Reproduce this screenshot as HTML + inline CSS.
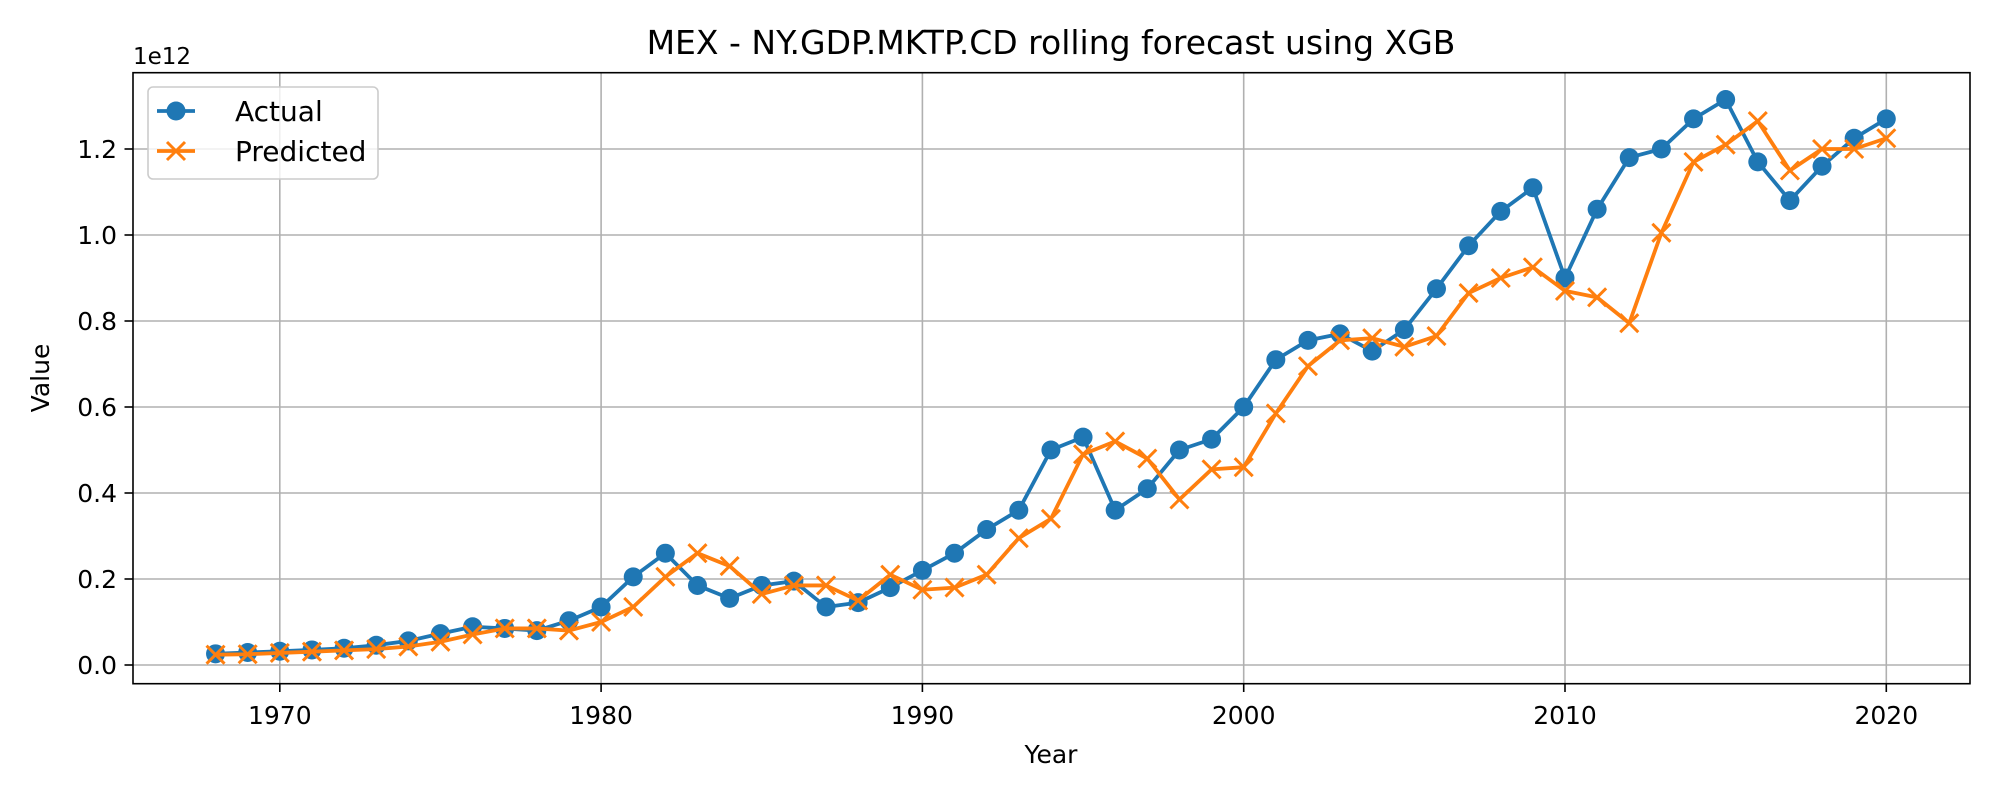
<!DOCTYPE html>
<html><head><meta charset="utf-8"><style>
body{margin:0;background:#fff}
svg{display:block;font-family:"DejaVu Sans","Liberation Sans",sans-serif}
</style></head><body>
<svg id="chart" width="2000" height="800" viewBox="0 0 2000 800">
<rect x="0" y="0" width="2000" height="800" fill="#fff"/>
<text x="1051" y="54" text-anchor="middle" font-size="33">MEX - NY.GDP.MKTP.CD rolling forecast using XGB</text>
<text x="133" y="64" font-size="23">1e12</text>
<g id="grid"></g>
<g id="ticks"></g>
<g id="series"></g>
<rect x="133" y="72.7" width="1837" height="611" fill="none" stroke="#000" stroke-width="1.6"/>
<text x="1051" y="763" text-anchor="middle" font-size="25">Year</text>
<text x="0" y="0" transform="translate(49,378) rotate(-90)" text-anchor="middle" font-size="25">Value</text>
<g>
<rect x="148" y="87" width="230" height="92" rx="5" fill="#fff" fill-opacity="0.8" stroke="#ccc" stroke-width="1.6"/>
<g>
<line x1="157" y1="111" x2="195" y2="111" stroke="#1f77b4" stroke-width="3.8"/>
<circle cx="176" cy="111" r="9.5" fill="#1f77b4"/>
<text x="235" y="121" font-size="28">Actual</text></g>
<g>
<line x1="157" y1="151" x2="195" y2="151" stroke="#ff7f0e" stroke-width="3.8"/>
<path d="M167,142 L185,160 M185,142 L167,160" stroke="#ff7f0e" stroke-width="3"/>
<text x="235" y="161" font-size="28">Predicted</text></g>
</g>
</svg>
<script>
const years = [];
for (let y = 1968; y <= 2020; y++) years.push(y);
const actual = [0.026,0.029,0.032,0.035,0.039,0.046,0.056,0.073,0.089,0.085,0.08,0.103,0.135,0.205,0.26,0.185,0.155,0.185,0.195,0.135,0.145,0.18,0.22,0.26,0.315,0.36,0.5,0.53,0.36,0.41,0.5,0.525,0.6,0.71,0.755,0.77,0.73,0.78,0.875,0.975,1.055,1.11,0.9,1.06,1.18,1.2,1.27,1.315,1.17,1.08,1.16,1.225,1.27];
const predicted = [0.024,0.025,0.028,0.031,0.034,0.037,0.043,0.054,0.071,0.085,0.085,0.08,0.1,0.135,0.205,0.26,0.23,0.165,0.185,0.185,0.15,0.21,0.175,0.18,0.21,0.295,0.34,0.49,0.52,0.48,0.385,0.455,0.46,0.585,0.695,0.755,0.76,0.74,0.765,0.865,0.9,0.925,0.87,0.855,0.795,1.005,1.17,1.21,1.265,1.15,1.2,1.2,1.225];
const xTicks = [1970,1980,1990,2000,2010,2020];
const yTicks = [0,0.2,0.4,0.6,0.8,1.0,1.2];
const yTickLabels = ["0.0","0.2","0.4","0.6","0.8","1.0","1.2"];

const NS = "http://www.w3.org/2000/svg";
function xs(v){ return 279.8 + (v - 1970) * 32.13; }
function ys(v){ return 665 - v * 430; }
function mk(tag, attrs, parent){
  const e = document.createElementNS(NS, tag);
  for (const k in attrs) e.setAttribute(k, attrs[k]);
  parent.appendChild(e);
  return e;
}
const grid = document.getElementById('grid');
const ticks = document.getElementById('ticks');
const series = document.getElementById('series');

xTicks.forEach(t => {
  const g = mk('line', {x1: xs(t), x2: xs(t), y1: 72.7, y2: 683.7, stroke: '#b0b0b0', 'stroke-width': 1.6}, grid);
  
  
  mk('line', {x1: xs(t), x2: xs(t), y1: 683.7, y2: 692, stroke: '#000', 'stroke-width': 1.6}, ticks);
  const tx = mk('text', {x: xs(t), y: 724, 'text-anchor': 'middle', 'font-size': 25}, ticks);
  tx.textContent = t;
  
  
});
yTicks.forEach((t, i) => {
  const g = mk('line', {x1: 133, x2: 1970, y1: ys(t), y2: ys(t), stroke: '#b0b0b0', 'stroke-width': 1.6}, grid);
  
  
  mk('line', {x1: 124.5, x2: 133, y1: ys(t), y2: ys(t), stroke: '#000', 'stroke-width': 1.6}, ticks);
  const tx = mk('text', {x: 117, y: ys(t) + 9, 'text-anchor': 'end', 'font-size': 25}, ticks);
  tx.textContent = yTickLabels[i];
  
  
});

const pa = years.map((y, i) => xs(y) + ',' + ys(actual[i])).join(' ');
const la = mk('polyline', {points: pa, fill: 'none', stroke: '#1f77b4', 'stroke-width': 3.8, 'stroke-linejoin': 'round'}, series);


years.forEach((y, i) => {
  const c = mk('circle', {cx: xs(y), cy: ys(actual[i]), r: 9.5, fill: '#1f77b4'}, series);
  
  
});
const pp = years.map((y, i) => xs(y) + ',' + ys(predicted[i])).join(' ');
const lp = mk('polyline', {points: pp, fill: 'none', stroke: '#ff7f0e', 'stroke-width': 3.8, 'stroke-linejoin': 'round'}, series);


years.forEach((y, i) => {
  const cx = xs(y), cy = ys(predicted[i]), s = 9;
  const p = mk('path', {d: `M${cx-s},${cy-s} L${cx+s},${cy+s} M${cx+s},${cy-s} L${cx-s},${cy+s}`, stroke: '#ff7f0e', 'stroke-width': 3}, series);
  
  
});
</script>
</body></html>
